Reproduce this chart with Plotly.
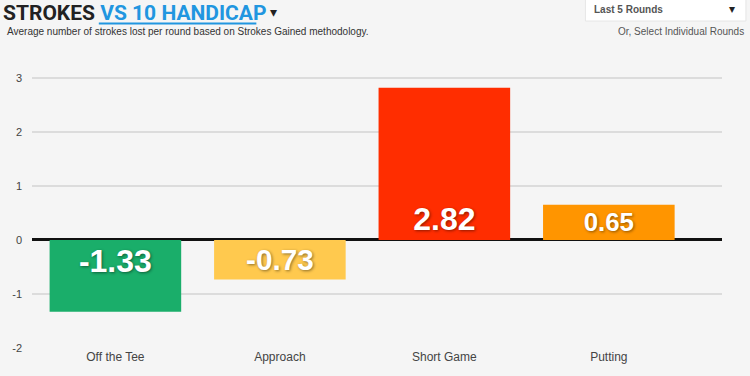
import plotly.graph_objects as go

categories = ["Off the Tee", "Approach", "Short Game", "Putting"]
values = [-1.33, -0.73, 2.82, 0.65]
labels = ["-1.33", "-0.73", "2.82", "0.65"]
bar_colors = ["#1aae6a", "#ffc94e", "#ff2d00", "#ff9500"]
y_ticks = [-2, -1, 0, 1, 2, 3]
y_tick_text = ["-2", "-1", "0", "1", "2", "3"]

W, H = 750, 376
L, R, T, B = 30, 28, 59, 28
pw, ph = W - L - R, H - T - B

def px(x):
    return (x - L) / pw

def py(y):
    return (H - B - y) / ph

fig = go.Figure()
fig.add_trace(go.Bar(
    x=categories, y=values, marker=dict(color=bar_colors, line=dict(width=0)),
    width=0.8, text=labels, textposition="inside", insidetextanchor="start",
    textangle=0,
    textfont=dict(family="Liberation Sans", size=32, color="white", weight="bold",
                  shadow="1px 1px 3px rgba(0,0,0,0.45)"),
    hoverinfo="skip",
))

fig.update_layout(
    width=W, height=H, margin=dict(l=L, r=R, t=T, b=B),
    paper_bgcolor="#f5f5f5", plot_bgcolor="#f5f5f5",
    showlegend=False, bargap=0.2,
    font=dict(family="Liberation Sans", color="#444"),
    title=dict(
        text="<b>STROKES</b> <b><span style='color:#2196e0'>VS 10 HANDICAP</span></b>",
        x=3 / W, xanchor="left", xref="container",
        y=1 - 13 / H, yanchor="middle", yref="container",
        font=dict(family="Roboto", size=21, color="#222", weight=900),
    ),
    xaxis=dict(range=[-0.507, 3.688], showgrid=False, zeroline=False, showline=False,
               ticks="", tickfont=dict(size=12, color="#444")),
    yaxis=dict(range=[-2, 3.35], tickvals=y_ticks, ticktext=y_tick_text, showgrid=True,
               gridcolor="#dcdcdc", gridwidth=1.5, zeroline=True, zerolinecolor="#111",
               zerolinewidth=2.5, tickfont=dict(size=11, color="#444"), ticklabelstandoff=9),
)

shapes = [
    # title underline
    dict(type="line", xref="paper", yref="paper", x0=px(97), x1=px(255), y0=py(23.5), y1=py(23.5),
         line=dict(color="#2196e0", width=2)),
    # dropdown box
    dict(type="rect", xref="paper", yref="paper", x0=px(585), x1=px(746), y0=py(21), y1=py(-2),
         fillcolor="white", line=dict(color="#e6e6e6", width=1)),
]
fig.update_layout(shapes=shapes)

annotations = [
    dict(text="▾", xref="paper", yref="paper", x=px(272), y=py(12), showarrow=False,
         xanchor="center", yanchor="middle", font=dict(size=14, color="#222")),
    dict(text="Average number of strokes lost per round based on Strokes Gained methodology.",
         xref="paper", yref="paper", x=px(3), y=py(31), showarrow=False,
         xanchor="left", yanchor="middle", font=dict(size=10, color="#333")),
    dict(text="<b>Last 5 Rounds</b>", xref="paper", yref="paper", x=px(592), y=py(9),
         showarrow=False, xanchor="left", yanchor="middle", font=dict(size=10, color="#555")),
    dict(text="▾", xref="paper", yref="paper", x=px(732), y=py(9), showarrow=False,
         xanchor="center", yanchor="middle", font=dict(size=12, color="#222")),
    dict(text="Or, Select Individual Rounds", xref="paper", yref="paper", x=px(746), y=py(31),
         showarrow=False, xanchor="right", yanchor="middle", font=dict(size=10, color="#555")),
]
fig.update_layout(annotations=annotations)

fig.write_html("out.html", config={"displayModeBar": False},
               post_script="document.body.style.margin='0';document.body.style.overflow='hidden';")
